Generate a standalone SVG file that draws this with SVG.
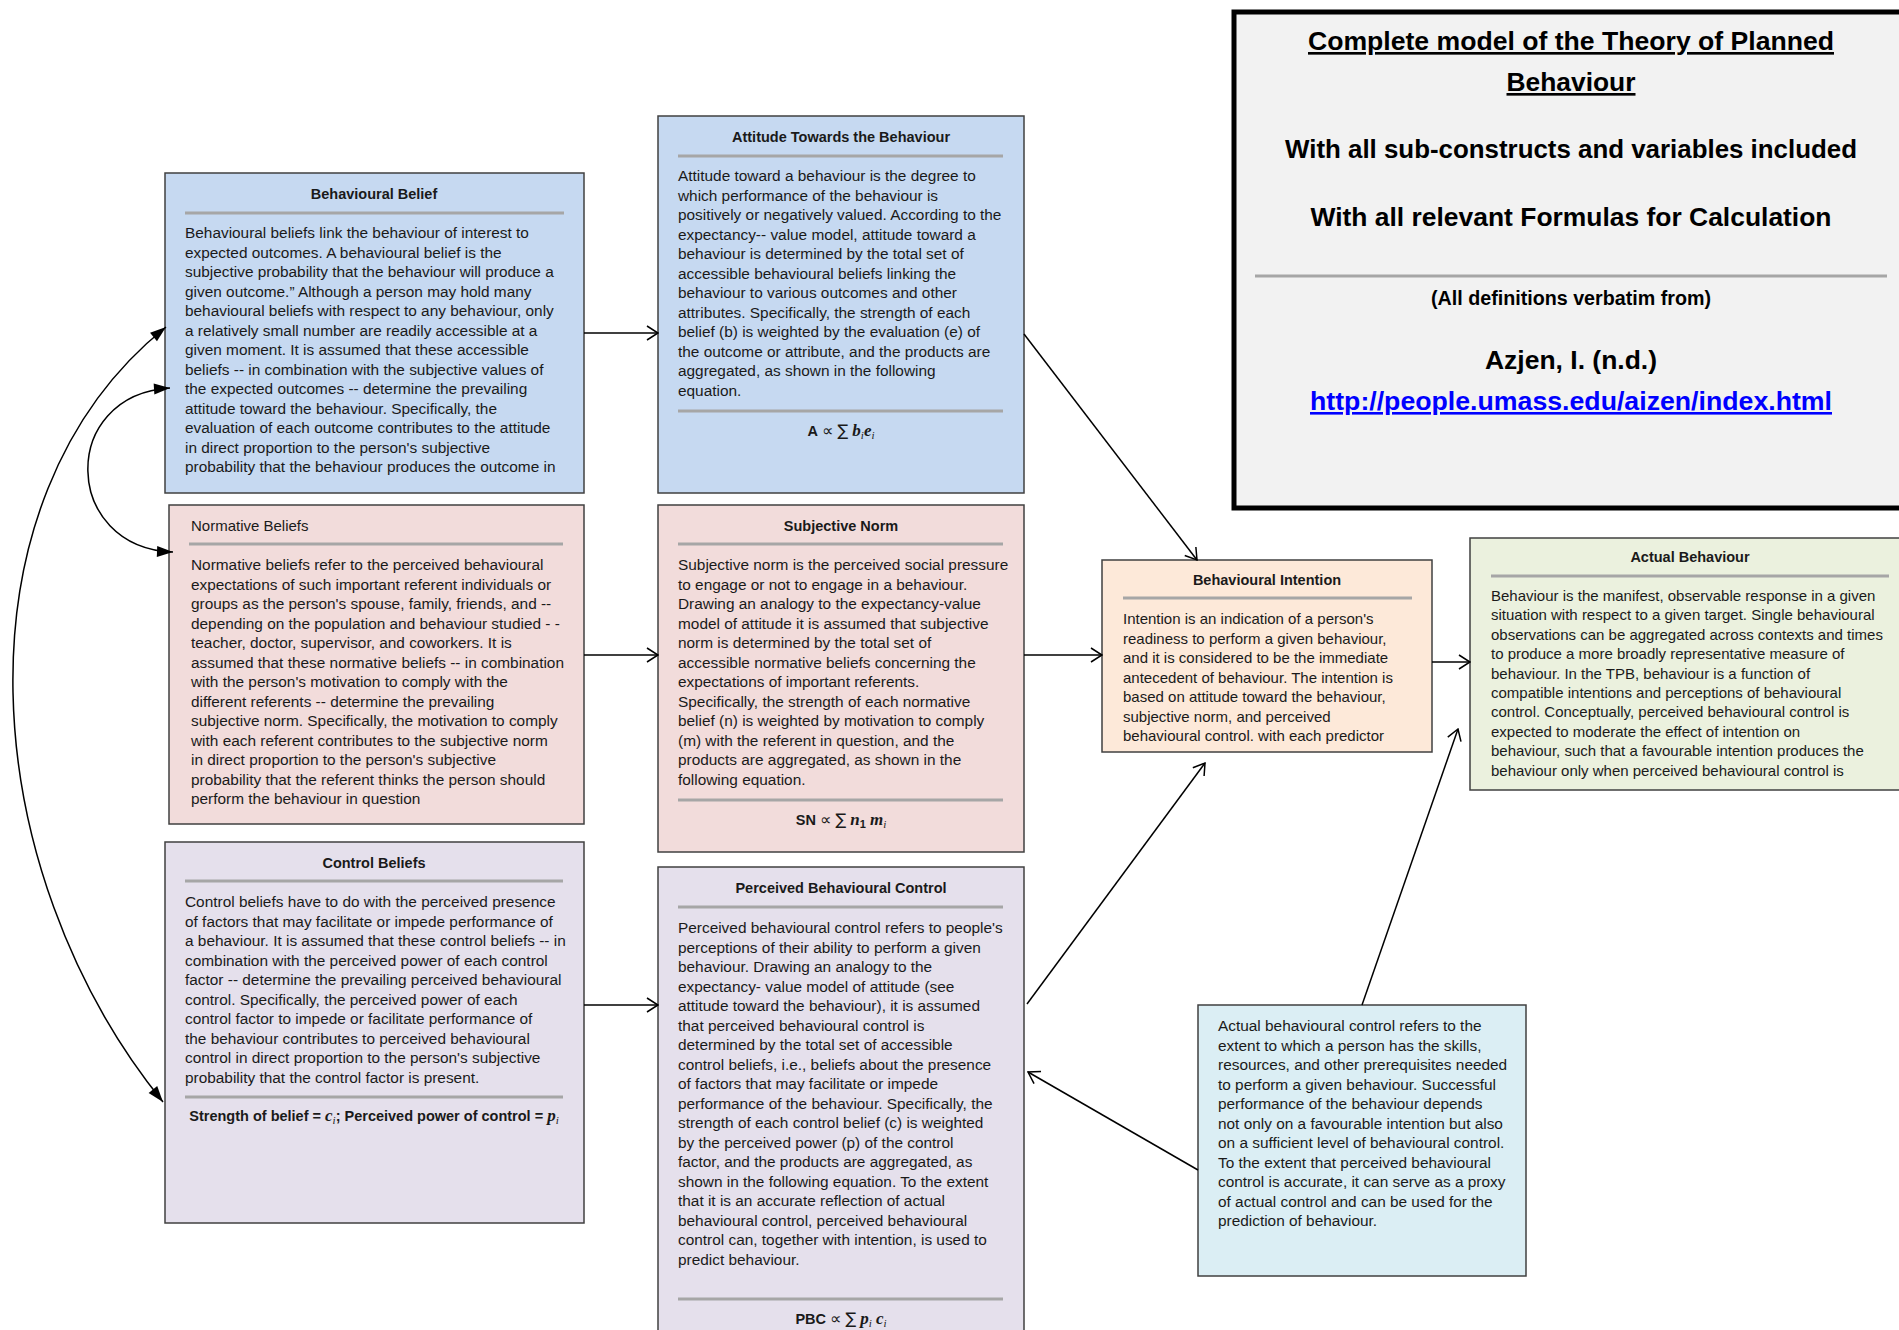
<svg xmlns="http://www.w3.org/2000/svg" width="1899" height="1330" viewBox="0 0 1899 1330">
<style>
.bx{stroke:#404040;stroke-width:1.5}
.t{font-family:"Liberation Sans",Arial,"DejaVu Sans",sans-serif;font-size:15.4px;fill:#1a1a1a}
.n{font-size:15px}
.h{font-family:"Liberation Sans",Arial,sans-serif;font-size:14.5px;font-weight:bold;fill:#1a1a1a;text-anchor:middle}
.hr{font-family:"Liberation Sans",Arial,sans-serif;font-size:15px;fill:#1a1a1a}
.rule{stroke:#a6a6a6;stroke-width:3}
.fm{font-family:"Liberation Sans","DejaVu Sans",sans-serif;font-size:14.5px;fill:#1a1a1a;text-anchor:middle}
.op{font-family:"DejaVu Sans",sans-serif;font-size:16px}
.mv{font-family:"Liberation Serif","DejaVu Serif",serif;font-style:italic;font-weight:bold;font-size:17px}
.ms{font-family:"Liberation Serif","DejaVu Serif",serif;font-style:italic;font-size:11px}
.mi{font-family:"Liberation Serif","DejaVu Serif",serif;font-style:italic;font-weight:bold;font-size:17px}
.ti{font-family:"Liberation Sans",Arial,sans-serif;font-weight:bold;fill:#000;text-anchor:middle}
.c{stroke:#000;stroke-width:1.5;fill:none}
</style>
<defs>
<marker id="op" viewBox="-13 -8 14 16" refX="0" refY="0" markerWidth="14" markerHeight="16" markerUnits="userSpaceOnUse" orient="auto">
<path d="M-11,-7 L0,0 L-11,7" fill="none" stroke="#000" stroke-width="1.5"/>
</marker>
<marker id="fl" viewBox="-17 -7 18 14" refX="0" refY="0" markerWidth="18" markerHeight="14" markerUnits="userSpaceOnUse" orient="auto-start-reverse">
<path d="M-16,-5.5 L0,0 L-16,5.5 z" fill="#000"/>
</marker>
</defs>
<rect width="1899" height="1330" fill="#ffffff"/>

<g id="title">
<rect x="1234" y="12" width="700" height="496" fill="#f2f2f2" stroke="#000" stroke-width="5"/>
<text class="ti" x="1571" y="50" font-size="26.5" textLength="526" lengthAdjust="spacingAndGlyphs" text-decoration="underline">Complete model of the Theory of Planned</text>
<text class="ti" x="1571" y="91" font-size="26.5" textLength="129" lengthAdjust="spacingAndGlyphs" text-decoration="underline">Behaviour</text>
<text class="ti" x="1571" y="158" font-size="26.5" textLength="572" lengthAdjust="spacingAndGlyphs">With all sub-constructs and variables included</text>
<text class="ti" x="1571" y="226" font-size="26.5" textLength="521" lengthAdjust="spacingAndGlyphs">With all relevant Formulas for Calculation</text>
<line class="rule" x1="1255" y1="276" x2="1887" y2="276"/>
<text class="ti" x="1571" y="305" font-size="19.5" textLength="280" lengthAdjust="spacingAndGlyphs">(All definitions verbatim from)</text>
<text class="ti" x="1571" y="369" font-size="26" textLength="172" lengthAdjust="spacingAndGlyphs">Azjen, I. (n.d.)</text>
<text class="ti" x="1571" y="410" font-size="26" style="fill:#0000ff" textLength="522" lengthAdjust="spacingAndGlyphs" text-decoration="underline">http://people.umass.edu/aizen/index.html</text>
</g>

<g id="behavioural-belief">
<rect class="bx" x="165" y="173" width="419" height="320" fill="#c6d9f1"/>
<text class="h" x="374" y="199">Behavioural Belief</text>
<line class="rule" x1="185" y1="213" x2="564" y2="213"/>
<text class="t" x="185" y="238">
<tspan x="185" dy="0">Behavioural beliefs link the behaviour of interest to</tspan>
<tspan x="185" dy="19.5">expected outcomes. A behavioural belief is the</tspan>
<tspan x="185" dy="19.5">subjective probability that the behaviour will produce a</tspan>
<tspan x="185" dy="19.5">given outcome.” Although a person may hold many</tspan>
<tspan x="185" dy="19.5">behavioural beliefs with respect to any behaviour, only</tspan>
<tspan x="185" dy="19.5">a relatively small number are readily accessible at a</tspan>
<tspan x="185" dy="19.5">given moment. It is assumed that these accessible</tspan>
<tspan x="185" dy="19.5">beliefs -- in combination with the subjective values of</tspan>
<tspan x="185" dy="19.5">the expected outcomes -- determine the prevailing</tspan>
<tspan x="185" dy="19.5">attitude toward the behaviour. Specifically, the</tspan>
<tspan x="185" dy="19.5">evaluation of each outcome contributes to the attitude</tspan>
<tspan x="185" dy="19.5">in direct proportion to the person's subjective</tspan>
<tspan x="185" dy="19.5">probability that the behaviour produces the outcome in</tspan>
</text>
</g>

<g id="attitude">
<rect class="bx" x="658" y="116" width="366" height="377" fill="#c6d9f1"/>
<text class="h" x="841" y="142">Attitude Towards the Behaviour</text>
<line class="rule" x1="678" y1="156" x2="1003" y2="156"/>
<text class="t" x="678" y="181">
<tspan x="678" dy="0">Attitude toward a behaviour is the degree to</tspan>
<tspan x="678" dy="19.5">which performance of the behaviour is</tspan>
<tspan x="678" dy="19.5">positively or negatively valued. According to the</tspan>
<tspan x="678" dy="19.5">expectancy-- value model, attitude toward a</tspan>
<tspan x="678" dy="19.5">behaviour is determined by the total set of</tspan>
<tspan x="678" dy="19.5">accessible behavioural beliefs linking the</tspan>
<tspan x="678" dy="19.5">behaviour to various outcomes and other</tspan>
<tspan x="678" dy="19.5">attributes. Specifically, the strength of each</tspan>
<tspan x="678" dy="19.5">belief (b) is weighted by the evaluation (e) of</tspan>
<tspan x="678" dy="19.5">the outcome or attribute, and the products are</tspan>
<tspan x="678" dy="19.5">aggregated, as shown in the following</tspan>
<tspan x="678" dy="19.5">equation.</tspan>
</text>
<line class="rule" x1="678" y1="411" x2="1003" y2="411"/>
<text class="fm" x="841" y="436"><tspan font-weight="bold">A</tspan> <tspan class="op">∝</tspan> <tspan class="op">∑</tspan> <tspan class="mv">b</tspan><tspan class="ms" dy="3">i</tspan><tspan class="mv" dy="-3">e</tspan><tspan class="ms" dy="3">i</tspan></text>
</g>

<g id="normative-beliefs">
<rect class="bx" x="169" y="505" width="415" height="319" fill="#f2dcdb"/>
<text class="hr" x="191" y="531">Normative Beliefs</text>
<line class="rule" x1="189" y1="544" x2="563" y2="544"/>
<text class="t" x="191" y="570">
<tspan x="191" dy="0">Normative beliefs refer to the perceived behavioural</tspan>
<tspan x="191" dy="19.5">expectations of such important referent individuals or</tspan>
<tspan x="191" dy="19.5">groups as the person's spouse, family, friends, and --</tspan>
<tspan x="191" dy="19.5">depending on the population and behaviour studied - -</tspan>
<tspan x="191" dy="19.5">teacher, doctor, supervisor, and coworkers. It is</tspan>
<tspan x="191" dy="19.5">assumed that these normative beliefs -- in combination</tspan>
<tspan x="191" dy="19.5">with the person's motivation to comply with the</tspan>
<tspan x="191" dy="19.5">different referents -- determine the prevailing</tspan>
<tspan x="191" dy="19.5">subjective norm. Specifically, the motivation to comply</tspan>
<tspan x="191" dy="19.5">with each referent contributes to the subjective norm</tspan>
<tspan x="191" dy="19.5">in direct proportion to the person's subjective</tspan>
<tspan x="191" dy="19.5">probability that the referent thinks the person should</tspan>
<tspan x="191" dy="19.5">perform the behaviour in question</tspan>
</text>
</g>

<g id="subjective-norm">
<rect class="bx" x="658" y="505" width="366" height="347" fill="#f2dcdb"/>
<text class="h" x="841" y="531">Subjective Norm</text>
<line class="rule" x1="678" y1="544" x2="1003" y2="544"/>
<text class="t" x="678" y="570">
<tspan x="678" dy="0">Subjective norm is the perceived social pressure</tspan>
<tspan x="678" dy="19.5">to engage or not to engage in a behaviour.</tspan>
<tspan x="678" dy="19.5">Drawing an analogy to the expectancy-value</tspan>
<tspan x="678" dy="19.5">model of attitude it is assumed that subjective</tspan>
<tspan x="678" dy="19.5">norm is determined by the total set of</tspan>
<tspan x="678" dy="19.5">accessible normative beliefs concerning the</tspan>
<tspan x="678" dy="19.5">expectations of important referents.</tspan>
<tspan x="678" dy="19.5">Specifically, the strength of each normative</tspan>
<tspan x="678" dy="19.5">belief (n) is weighted by motivation to comply</tspan>
<tspan x="678" dy="19.5">(m) with the referent in question, and the</tspan>
<tspan x="678" dy="19.5">products are aggregated, as shown in the</tspan>
<tspan x="678" dy="19.5">following equation.</tspan>
</text>
<line class="rule" x1="678" y1="800" x2="1003" y2="800"/>
<text class="fm" x="841" y="825"><tspan font-weight="bold">SN</tspan> <tspan class="op">∝</tspan> <tspan class="op">∑</tspan> <tspan class="mv">n</tspan><tspan font-weight="bold" font-size="11" dy="3">1</tspan><tspan dy="-3"> </tspan><tspan class="mv">m</tspan><tspan class="ms" dy="3">i</tspan></text>
</g>

<g id="control-beliefs">
<rect class="bx" x="165" y="842" width="419" height="381" fill="#e5e0ec"/>
<text class="h" x="374" y="868">Control Beliefs</text>
<line class="rule" x1="185" y1="881" x2="563" y2="881"/>
<text class="t" x="185" y="907">
<tspan x="185" dy="0">Control beliefs have to do with the perceived presence</tspan>
<tspan x="185" dy="19.5">of factors that may facilitate or impede performance of</tspan>
<tspan x="185" dy="19.5">a behaviour. It is assumed that these control beliefs -- in</tspan>
<tspan x="185" dy="19.5">combination with the perceived power of each control</tspan>
<tspan x="185" dy="19.5">factor -- determine the prevailing perceived behavioural</tspan>
<tspan x="185" dy="19.5">control. Specifically, the perceived power of each</tspan>
<tspan x="185" dy="19.5">control factor to impede or facilitate performance of</tspan>
<tspan x="185" dy="19.5">the behaviour contributes to perceived behavioural</tspan>
<tspan x="185" dy="19.5">control in direct proportion to the person's subjective</tspan>
<tspan x="185" dy="19.5">probability that the control factor is present.</tspan>
</text>
<line class="rule" x1="185" y1="1097" x2="563" y2="1097"/>
<text class="fm" x="374" y="1121" font-weight="bold">Strength of belief = <tspan class="mi">c</tspan><tspan class="ms" font-weight="normal" dy="3">i</tspan><tspan dy="-3">; Perceived power of control = </tspan><tspan class="mi">p</tspan><tspan class="ms" font-weight="normal" dy="3">i</tspan></text>
</g>

<g id="perceived-behavioural-control">
<rect class="bx" x="658" y="867" width="366" height="480" fill="#e5e0ec"/>
<text class="h" x="841" y="893">Perceived Behavioural Control</text>
<line class="rule" x1="678" y1="907" x2="1003" y2="907"/>
<text class="t" x="678" y="933">
<tspan x="678" dy="0">Perceived behavioural control refers to people's</tspan>
<tspan x="678" dy="19.5">perceptions of their ability to perform a given</tspan>
<tspan x="678" dy="19.5">behaviour. Drawing an analogy to the</tspan>
<tspan x="678" dy="19.5">expectancy- value model of attitude (see</tspan>
<tspan x="678" dy="19.5">attitude toward the behaviour), it is assumed</tspan>
<tspan x="678" dy="19.5">that perceived behavioural control is</tspan>
<tspan x="678" dy="19.5">determined by the total set of accessible</tspan>
<tspan x="678" dy="19.5">control beliefs, i.e., beliefs about the presence</tspan>
<tspan x="678" dy="19.5">of factors that may facilitate or impede</tspan>
<tspan x="678" dy="19.5">performance of the behaviour. Specifically, the</tspan>
<tspan x="678" dy="19.5">strength of each control belief (c) is weighted</tspan>
<tspan x="678" dy="19.5">by the perceived power (p) of the control</tspan>
<tspan x="678" dy="19.5">factor, and the products are aggregated, as</tspan>
<tspan x="678" dy="19.5">shown in the following equation. To the extent</tspan>
<tspan x="678" dy="19.5">that it is an accurate reflection of actual</tspan>
<tspan x="678" dy="19.5">behavioural control, perceived behavioural</tspan>
<tspan x="678" dy="19.5">control can, together with intention, is used to</tspan>
<tspan x="678" dy="19.5">predict behaviour.</tspan>
</text>
<line class="rule" x1="678" y1="1299" x2="1003" y2="1299"/>
<text class="fm" x="841" y="1324"><tspan font-weight="bold">PBC</tspan> <tspan class="op">∝</tspan> <tspan class="op">∑</tspan> <tspan class="mv">p</tspan><tspan class="ms" dy="3">i</tspan><tspan dy="-3"> </tspan><tspan class="mv">c</tspan><tspan class="ms" dy="3">i</tspan></text>
</g>

<g id="behavioural-intention">
<rect class="bx" x="1102" y="560" width="330" height="192" fill="#fde9d9"/>
<text class="h" x="1267" y="585">Behavioural Intention</text>
<line class="rule" x1="1123" y1="598" x2="1412" y2="598"/>
<text class="t n" x="1123" y="624">
<tspan x="1123" dy="0">Intention is an indication of a person's</tspan>
<tspan x="1123" dy="19.5">readiness to perform a given behaviour,</tspan>
<tspan x="1123" dy="19.5">and it is considered to be the immediate</tspan>
<tspan x="1123" dy="19.5">antecedent of behaviour. The intention is</tspan>
<tspan x="1123" dy="19.5">based on attitude toward the behaviour,</tspan>
<tspan x="1123" dy="19.5">subjective norm, and perceived</tspan>
<tspan x="1123" dy="19.5">behavioural control. with each predictor</tspan>
</text>
</g>

<g id="actual-behaviour">
<rect class="bx" x="1470" y="538" width="440" height="252" fill="#ebf1de"/>
<text class="h" x="1690" y="562">Actual Behaviour</text>
<line class="rule" x1="1491" y1="576" x2="1889" y2="576"/>
<text class="t n" x="1491" y="601">
<tspan x="1491" dy="0">Behaviour is the manifest, observable response in a given</tspan>
<tspan x="1491" dy="19.4">situation with respect to a given target. Single behavioural</tspan>
<tspan x="1491" dy="19.4">observations can be aggregated across contexts and times</tspan>
<tspan x="1491" dy="19.4">to produce a more broadly representative measure of</tspan>
<tspan x="1491" dy="19.4">behaviour. In the TPB, behaviour is a function of</tspan>
<tspan x="1491" dy="19.4">compatible intentions and perceptions of behavioural</tspan>
<tspan x="1491" dy="19.4">control. Conceptually, perceived behavioural control is</tspan>
<tspan x="1491" dy="19.4">expected to moderate the effect of intention on</tspan>
<tspan x="1491" dy="19.4">behaviour, such that a favourable intention produces the</tspan>
<tspan x="1491" dy="19.4">behaviour only when perceived behavioural control is</tspan>
</text>
</g>

<g id="actual-behavioural-control">
<rect class="bx" x="1198" y="1005" width="328" height="271" fill="#dbeef4"/>
<text class="t" x="1218" y="1031">
<tspan x="1218" dy="0">Actual behavioural control refers to the</tspan>
<tspan x="1218" dy="19.5">extent to which a person has the skills,</tspan>
<tspan x="1218" dy="19.5">resources, and other prerequisites needed</tspan>
<tspan x="1218" dy="19.5">to perform a given behaviour. Successful</tspan>
<tspan x="1218" dy="19.5">performance of the behaviour depends</tspan>
<tspan x="1218" dy="19.5">not only on a favourable intention but also</tspan>
<tspan x="1218" dy="19.5">on a sufficient level of behavioural control.</tspan>
<tspan x="1218" dy="19.5">To the extent that perceived behavioural</tspan>
<tspan x="1218" dy="19.5">control is accurate, it can serve as a proxy</tspan>
<tspan x="1218" dy="19.5">of actual control and can be used for the</tspan>
<tspan x="1218" dy="19.5">prediction of behaviour.</tspan>
</text>
</g>

<g id="connectors">
<path class="c" d="M584,333 H658" marker-end="url(#op)"/>
<path class="c" d="M584,655 H658" marker-end="url(#op)"/>
<path class="c" d="M584,1005 H658" marker-end="url(#op)"/>
<path class="c" d="M1024,334 L1197,560" marker-end="url(#op)"/>
<path class="c" d="M1024,655 H1102" marker-end="url(#op)"/>
<path class="c" d="M1027,1004 L1205,763" marker-end="url(#op)"/>
<path class="c" d="M1432,662 H1470" marker-end="url(#op)"/>
<path class="c" d="M1362,1005 L1458,729" marker-end="url(#op)"/>
<path class="c" d="M1198,1170 L1028,1072" marker-end="url(#op)"/>
<path class="c" d="M166,327 C-50,500 -25,870 163,1102" marker-start="url(#fl)" marker-end="url(#fl)"/>
<path class="c" d="M170,388 C58,395 62,548 173,552" marker-start="url(#fl)" marker-end="url(#fl)"/>
</g>
</svg>
